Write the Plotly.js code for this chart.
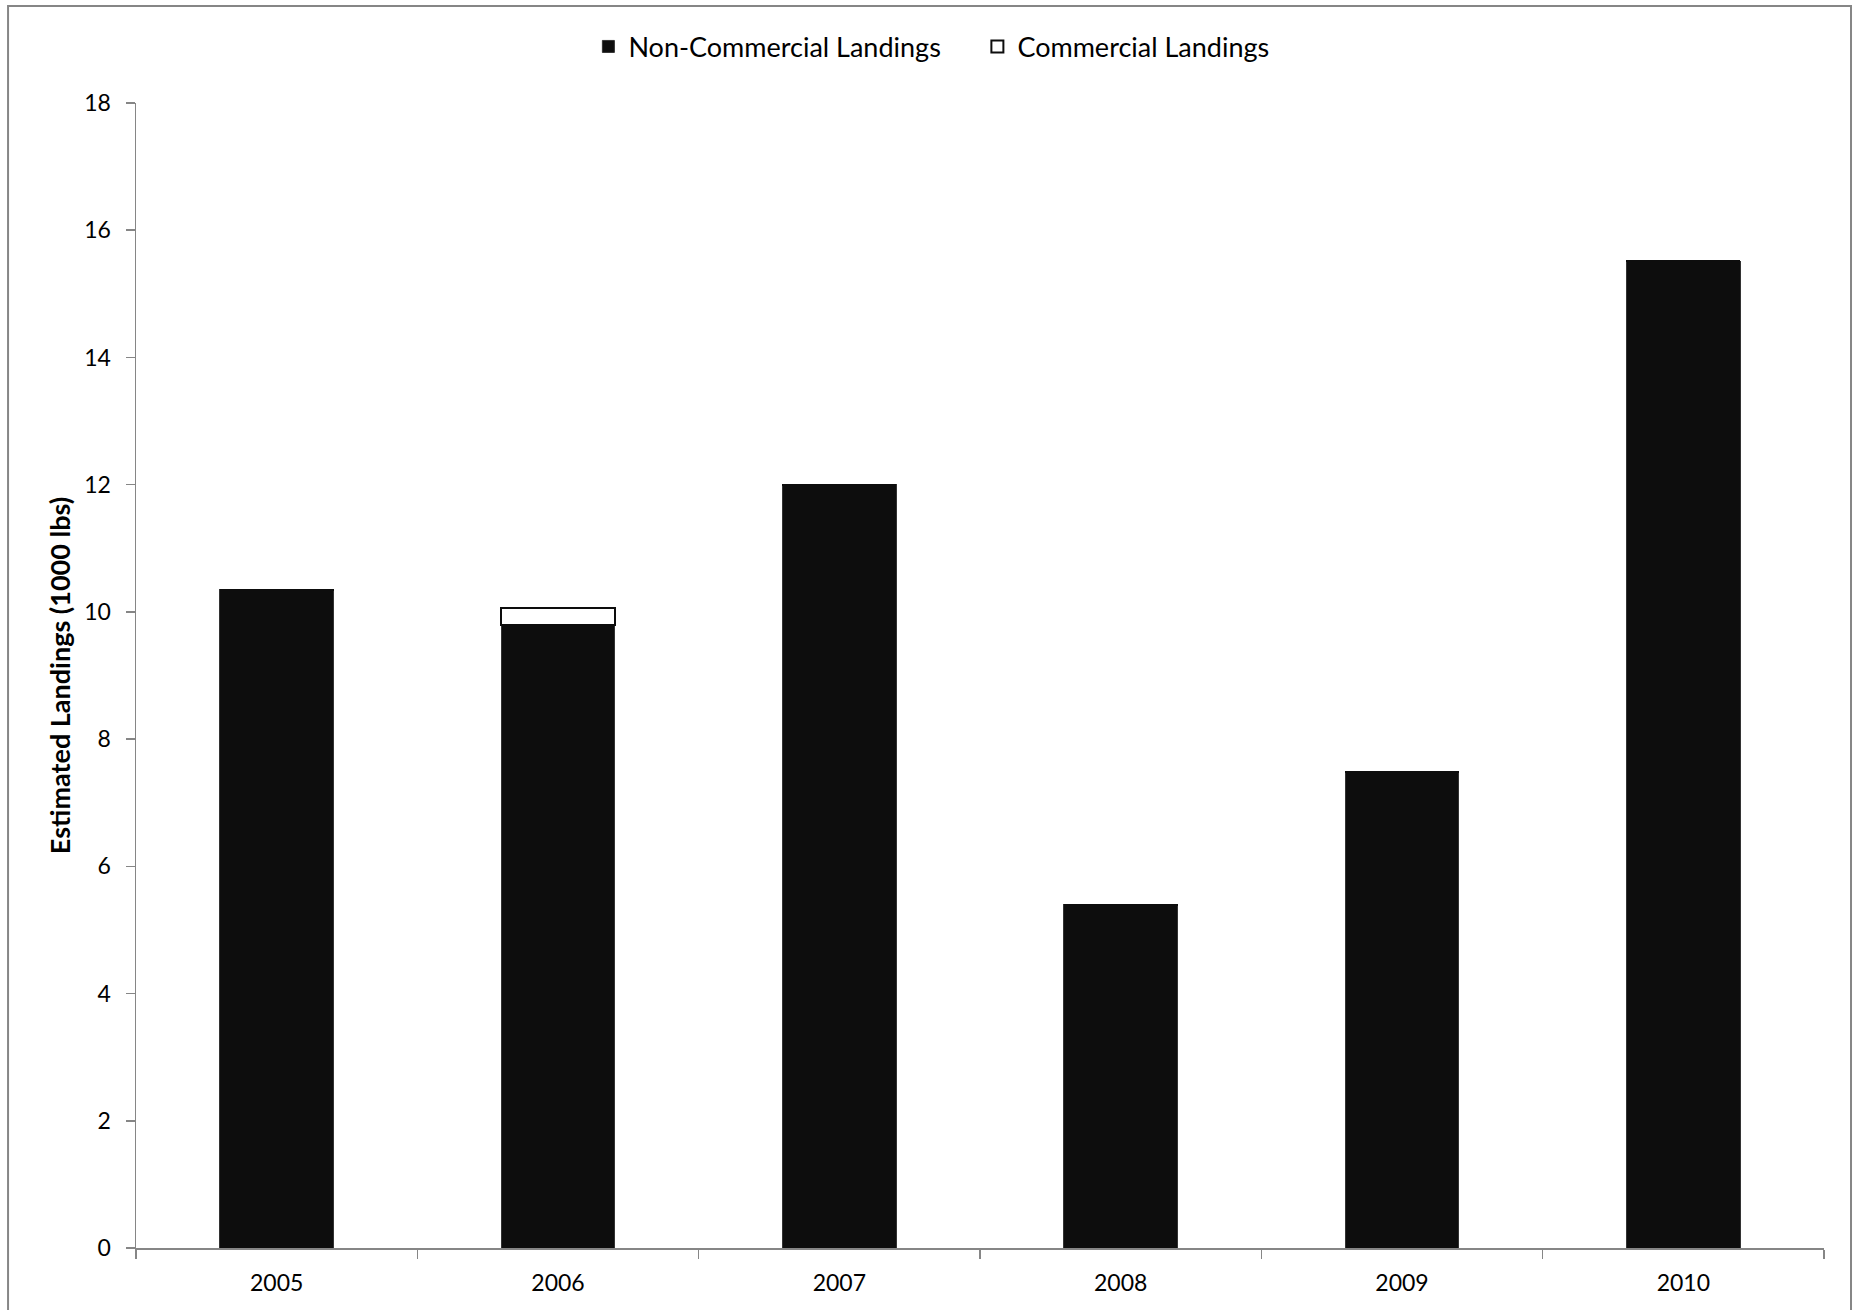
<!DOCTYPE html>
<html>
<head>
<meta charset="utf-8">
<script src="https://cdn.plot.ly/plotly-3.0.1.min.js"></script>
<style>html,body{margin:0;padding:0;background:#fff;}#chart{width:1856px;height:1310px;}</style>
</head>
<body>
<div id="chart"></div>
<script>
const years = ["2005", "2006", "2007", "2008", "2009", "2010"];
const nonCommercial = [10.35, 9.80, 12.00, 5.40, 7.48, 15.51];
const commercial = [0, 0.26, 0, 0, 0, 0];
const yTicks = [0, 2, 4, 6, 8, 10, 12, 14, 16, 18];

const fontFam = "Lato, 'Open Sans', sans-serif";
const axisGray = "#868686";

const traces = [
  {
    type: "bar", name: "Non-Commercial Landings", x: years, y: nonCommercial,
    marker: {color: "#0d0d0d", line: {color: "#333333", width: 1}}
  },
  {
    type: "bar", name: "Commercial Landings", x: years, y: commercial,
    marker: {color: "#ffffff", line: {color: "#0d0d0d", width: 2}}
  }
];

const layout = {
  width: 1856, height: 1310,
  margin: {l: 136, r: 32, t: 103, b: 62},
  paper_bgcolor: "#ffffff", plot_bgcolor: "#ffffff",
  barmode: "stack", bargap: 0.595,
  font: {family: fontFam, size: 23, color: "#000"},
  showlegend: true,
  legend: {orientation: "h", x: 0.268, xanchor: "left", y: 1.049, yanchor: "middle",
           font: {family: fontFam, size: 27, color: "#000"}, traceorder: "normal",
           itemwidth: 30, entrywidth: 344},
  xaxis: {type: "category", tickson: "boundaries", ticks: "outside", ticklen: 9,
          tickcolor: axisGray, tickwidth: 1.5, showline: true, linecolor: axisGray, linewidth: 1.5,
          showgrid: false, zeroline: false, ticklabelstandoff: 14,
          tickfont: {family: fontFam, size: 23, color: "#000"}},
  yaxis: {range: [0, 18], tickvals: yTicks, ticktext: yTicks.map(String), ticks: "outside", ticklen: 9,
          tickcolor: axisGray, tickwidth: 1.5, showline: true, linecolor: axisGray, linewidth: 1.5,
          showgrid: false, zeroline: false, ticklabelstandoff: 10,
          tickfont: {family: fontFam, size: 23, color: "#000"},
          title: {text: "Estimated Landings (1000 lbs)", font: {family: fontFam, size: 27, color: "#000", weight: "bold"}, standoff: 6}},
  shapes: [{type: "rect", xref: "paper", yref: "paper", x0: -0.0758, x1: 1.016, y0: -0.065, y1: 1.0847,
            line: {color: axisGray, width: 2}, fillcolor: "rgba(0,0,0,0)", layer: "below"}]
};

Plotly.newPlot("chart", traces, layout, {displayModeBar: false, staticPlot: true});
</script>
</body>
</html>
